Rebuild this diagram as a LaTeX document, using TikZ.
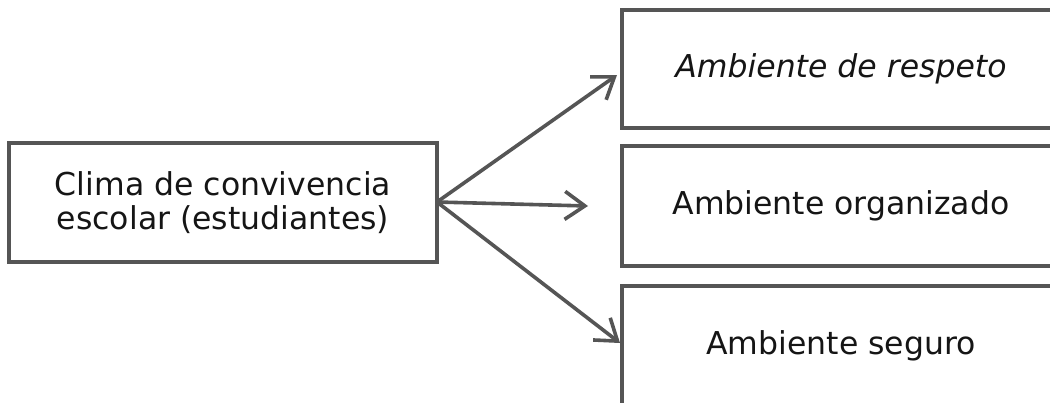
\documentclass[tikz,border=0pt]{standalone}
\usepackage{fontspec}
\setmainfont{DejaVu Sans}
\usetikzlibrary{arrows.meta}
\definecolor{linegray}{HTML}{555555}
\definecolor{txt}{HTML}{151515}
\begin{document}
\begin{tikzpicture}[x=1pt,y=-1pt,
  box/.style={draw=linegray,line width=3.6pt,fill=white,inner sep=0pt,align=center,text=txt,font=\fontsize{31.5}{33.5}\selectfont},
  conn/.style={draw=linegray,line width=3.6pt,-{Straight Barb[length=20pt,width=28pt,line width=3.6pt]}}]
\useasboundingbox (0,0) rectangle (1050,402);
\fill[white] (0,0) rectangle (1050,402);
\node[box,minimum width=428pt,minimum height=119pt] (a) at (223,202.5) {Clima de convivencia\\escolar (estudiantes)};
\node[box,minimum width=438pt,minimum height=118pt] (r1) at (841,69) {\itshape Ambiente de respeto};
\node[box,minimum width=438pt,minimum height=120pt] (r2) at (841,206) {Ambiente organizado};
\node[box,minimum width=438pt,minimum height=120pt] (r3) at (841,346) {Ambiente seguro};
\coordinate (s) at (437,202);
\coordinate (t1) at (617,75);
\coordinate (t2) at (588,206);
\coordinate (t3) at (620,343);
\draw[conn] (s) -- (t1);
\draw[conn] (s) -- (t2);
\draw[conn] (s) -- (t3);
\end{tikzpicture}
\end{document}
